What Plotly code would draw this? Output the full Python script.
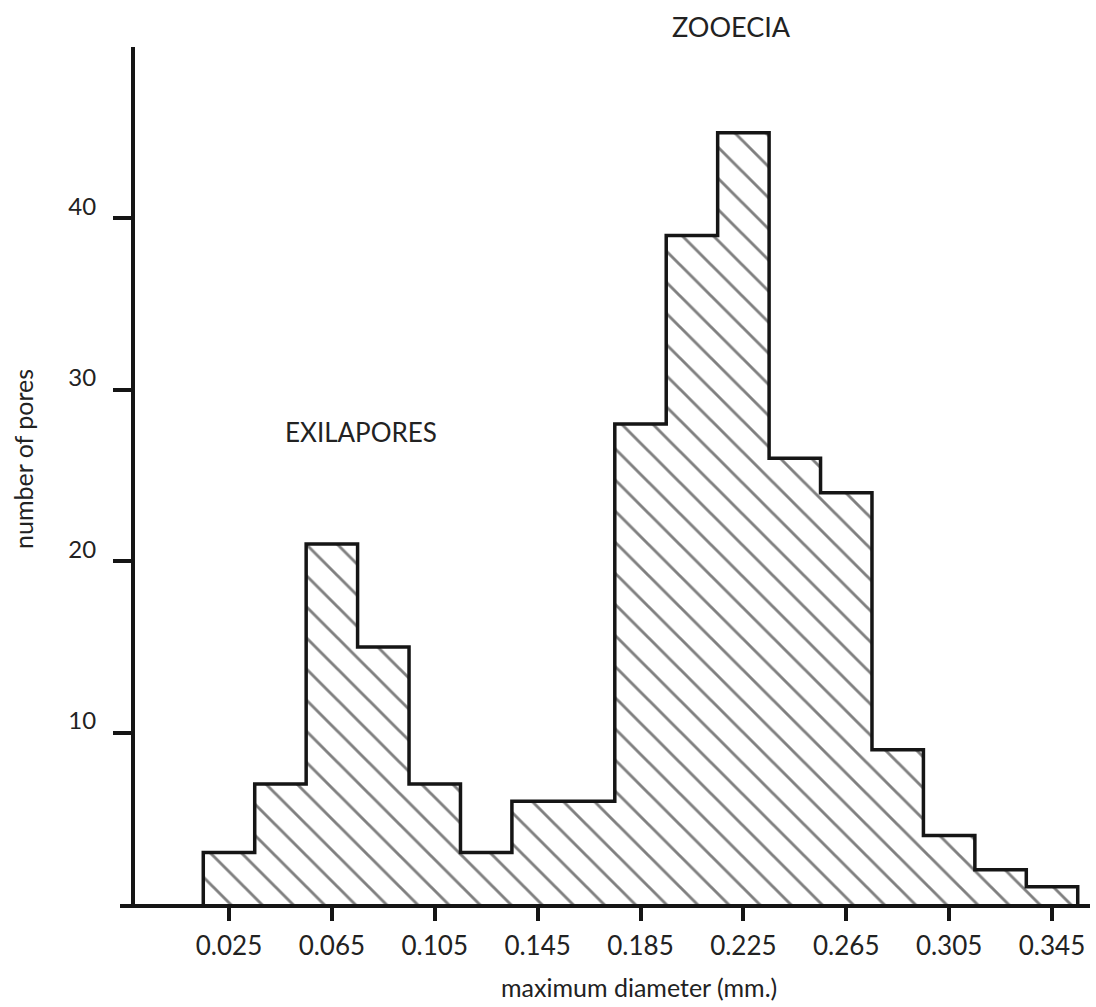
import plotly.graph_objects as go

# ---- data ----
bin_centers = [0.025, 0.045, 0.065, 0.085, 0.105, 0.125, 0.145, 0.165, 0.185,
               0.205, 0.225, 0.245, 0.265, 0.285, 0.305, 0.325, 0.345]
counts = [3, 7, 21, 15, 7, 3, 6, 6, 28, 39, 45, 26, 24, 9, 4, 2, 1]
bin_width = 0.02
x_tick_vals = [0.025, 0.065, 0.105, 0.145, 0.185, 0.225, 0.265, 0.305, 0.345]
x_tick_text = ["0.025", "0.065", "0.105", "0.145", "0.185", "0.225", "0.265", "0.305", "0.345"]
y_tick_vals = [10, 20, 30, 40]
x_title = "maximum diameter (mm.)"
y_title = "number of pores"
label_exila = "EXILAPORES"
label_zooecia = "ZOOECIA"

# ---- step outline built from the bins ----
edges = [c - bin_width / 2 for c in bin_centers] + [bin_centers[-1] + bin_width / 2]
step_x = [edges[0]] + edges[:-1] + [edges[-1]]
step_y = [0] + counts + [0]

INK = "#151515"
TXT = "#222"
FONT = "Lato"

W, H = 1096, 1007
ML, MR, MT, MB = 120, 6, 47, 103
PW, PH = W - ML - MR, H - MT - MB


def px(xp):
    return (xp - ML) / PW


def py(yp):
    return (H - MB - yp) / PH


fig = go.Figure()
fig.add_trace(go.Scatter(
    x=step_x, y=step_y,
    mode="lines",
    line=dict(shape="hv", color=INK, width=3.5),
    fill="tozeroy",
    fillcolor="white",
    fillpattern=dict(shape="\\", fgcolor="#000", bgcolor="white", size=22, solidity=0.13),
    hoverinfo="skip",
    showlegend=False,
))


def label(text, xp, yp, size, angle=0):
    return dict(text=text, x=px(xp), y=py(yp), xref="paper", yref="paper",
                xanchor="center", yanchor="middle", showarrow=False, textangle=angle,
                font=dict(family=FONT, size=size, color=TXT))


fig.update_layout(
    width=W, height=H,
    margin=dict(l=ML, r=MR, t=MT, b=MB),
    paper_bgcolor="white", plot_bgcolor="white",
    font=dict(family=FONT, color=TXT, size=22),
    showlegend=False,
    xaxis=dict(
        range=[-0.01738, 0.35977],
        showgrid=False, zeroline=False,
        showline=True, linecolor=INK, linewidth=4,
        ticks="outside", ticklen=13, tickwidth=4, tickcolor=INK,
        tickvals=x_tick_vals, ticktext=x_tick_text,
        tickfont=dict(family=FONT, size=26, color=TXT),
        ticklabelstandoff=3,
    ),
    yaxis=dict(
        range=[0, 50],
        anchor="free", position=0.0134,
        showgrid=False, zeroline=False,
        showline=True, linecolor=INK, linewidth=4,
        ticks="outside", ticklen=18, tickwidth=4, tickcolor=INK,
        tickvals=y_tick_vals,
        tickfont=dict(family=FONT, size=24, color=TXT),
        ticklabelstandoff=12,
        ticklabelshift=-12,
    ),
    annotations=[
        label(label_exila, 361, 432, 26),
        label(label_zooecia, 731, 27, 27),
        label(y_title, 23, 459, 25, angle=-90),
        label(x_title, 639, 987, 25),
    ],
)

fig.write_html("out.html", config={"displayModeBar": False},
               post_script="document.body.style.margin='0px';")
